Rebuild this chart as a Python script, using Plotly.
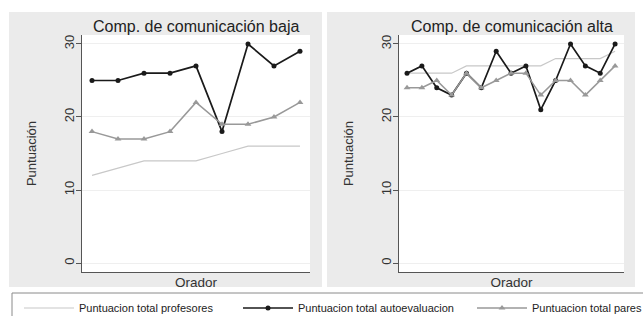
import plotly.graph_objects as go

W, H = 643, 316

# ---- data ----
left_x = list(range(1, 10))
left_prof = [12, 13, 14, 14, 14, 15, 16, 16, 16]
left_auto = [25, 25, 26, 26, 27, 18, 30, 27, 29]
left_pares = [18, 17, 17, 18, 22, 19, 19, 20, 22]

right_x = list(range(1, 16))
right_prof = [26, 26, 26, 26, 27, 27, 27, 27, 27, 27, 28, 28, 28, 28, 29]
right_auto = [26, 27, 24, 23, 26, 24, 29, 26, 27, 21, 25, 30, 27, 26, 30]
right_pares = [24, 24, 25, 23, 26, 24, 25, 26, 26, 23, 25, 25, 23, 25, 27]

titles = ["Comp. de comunicación baja", "Comp. de comunicación alta"]
series_names = ["Puntuacion total profesores", "Puntuacion total autoevaluacion", "Puntuacion total pares"]
y_ticks = [0, 10, 20, 30]
y_title = "Puntuación"
x_title = "Orador"

FONT = "Liberation Sans, Arial, sans-serif"

def px(v):
    return v / W

def py(v):
    return 1 - v / H

fig = go.Figure()

styles = [
    dict(mode="lines", line=dict(color="#c8c8c8", width=1.2)),
    dict(mode="lines+markers", line=dict(color="#1a1a1a", width=1.7),
         marker=dict(symbol="circle", size=5, color="#1a1a1a")),
    dict(mode="lines+markers", line=dict(color="#999999", width=1.5),
         marker=dict(symbol="triangle-up", size=6, color="#999999")),
]
legend_ids = ["legend", "legend2", "legend3"]

for panel, (xs, ys_list) in enumerate([
    (left_x, [left_prof, left_auto, left_pares]),
    (right_x, [right_prof, right_auto, right_pares]),
]):
    for i, ys in enumerate(ys_list):
        fig.add_trace(go.Scatter(
            x=xs, y=ys, name=series_names[i],
            showlegend=(panel == 0), legend=legend_ids[i],
            xaxis="x" if panel == 0 else "x2",
            yaxis="y" if panel == 0 else "y2",
            **styles[i]
        ))

plot_top, plot_bot = 35, 272
ydom = [py(plot_bot), py(plot_top)]
left_dom = [px(82), px(310)]
right_dom = [px(399), px(624)]

yaxis_common = dict(
    range=[-1.23, 31.23], tickvals=y_ticks, tickangle=-90,
    ticks="outside", ticklen=5, tickcolor="#555555", tickwidth=1,
    showline=True, linecolor="#555555", linewidth=1,
    showgrid=True, gridcolor="#efefef", gridwidth=1, zeroline=False,
    tickfont=dict(size=13, color="#333333", family=FONT),
    ticklabelstandoff=-3,
    title=dict(text=y_title, font=dict(size=13, color="#333333", family=FONT), standoff=22),
    domain=ydom, fixedrange=True,
)
xaxis_common = dict(
    showticklabels=False, ticks="", showgrid=False, zeroline=False,
    showline=True, linecolor="#555555", linewidth=1,
    title=dict(text=x_title, font=dict(size=13.5, color="#333333", family=FONT), standoff=5),
    fixedrange=True,
)

legend_common = dict(orientation="h", xanchor="left", y=py(308), yanchor="middle",
                     bgcolor="rgba(0,0,0,0)", borderwidth=0, itemwidth=50,
                     font=dict(size=11, color="#222222", family=FONT))

fig.update_layout(
    width=W, height=H,
    margin=dict(l=0, r=0, t=0, b=0, autoexpand=False),
    paper_bgcolor="white", plot_bgcolor="white",
    font=dict(family=FONT, color="#333333"),
    xaxis=dict(domain=left_dom, range=[0.615, 9.385], anchor="y", **xaxis_common),
    yaxis=dict(anchor="x", **yaxis_common),
    xaxis2=dict(domain=right_dom, range=[0.46, 15.6], anchor="y2", **xaxis_common),
    yaxis2=dict(anchor="x2", **yaxis_common),
    showlegend=True,
    legend=dict(x=px(19), **legend_common),
    legend2=dict(x=px(238), **legend_common),
    legend3=dict(x=px(472), **legend_common),
)

shapes = [
    dict(type="rect", xref="paper", yref="paper", x0=px(9), x1=px(322), y0=py(287), y1=py(12),
         fillcolor="#ebebeb", line=dict(width=0), layer="below"),
    dict(type="rect", xref="paper", yref="paper", x0=px(327), x1=px(635), y0=py(287), y1=py(12),
         fillcolor="#ebebeb", line=dict(width=0), layer="below"),
    dict(type="rect", xref="paper", yref="paper", x0=left_dom[0], x1=left_dom[1], y0=ydom[0], y1=ydom[1],
         fillcolor="white", line=dict(width=0), layer="below"),
    dict(type="rect", xref="paper", yref="paper", x0=right_dom[0], x1=right_dom[1], y0=ydom[0], y1=ydom[1],
         fillcolor="white", line=dict(width=0), layer="below"),
    dict(type="rect", xref="paper", yref="paper", x0=px(12), x1=px(660), y0=py(293), y1=py(330),
         fillcolor="rgba(0,0,0,0)", line=dict(width=1, color="#8a8a8a"), layer="below"),
]
fig.update_layout(shapes=shapes)

for cx, t in zip([196, 512], titles):
    fig.add_annotation(text=t, x=px(cx), y=py(26), xref="paper", yref="paper",
                       xanchor="center", yanchor="middle", showarrow=False,
                       font=dict(size=16, color="#222222", family=FONT))

fig.write_html(
    "out.html",
    config={"displayModeBar": False},
    post_script="document.documentElement.style.margin='0';document.body.style.margin='0';"
                "document.body.style.overflow='hidden';",
)
